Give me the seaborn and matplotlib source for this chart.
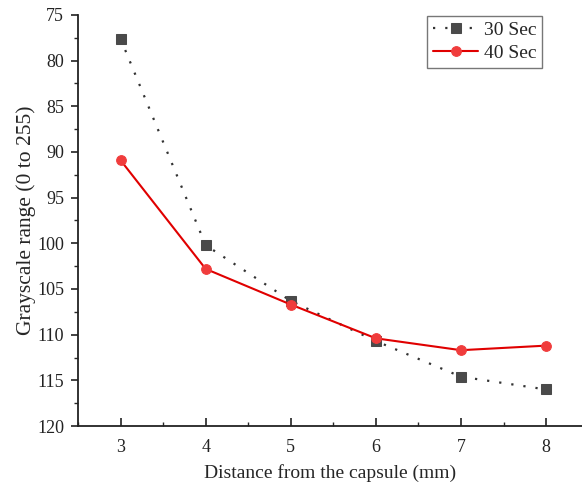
import matplotlib
matplotlib.use("Agg")
import matplotlib.pyplot as plt
import seaborn as sns
import pandas as pd
from matplotlib.ticker import MultipleLocator

distance = [3, 4, 5, 6, 7, 8]
gray_30 = [77.6, 100.2, 106.3, 110.7, 114.6, 116.0]
gray_40 = [90.9, 102.8, 106.7, 110.4, 111.7, 111.2]
y_ticks = [75, 80, 85, 90, 95, 100, 105, 110, 115, 120]
x_ticks = [3, 4, 5, 6, 7, 8]

df = pd.DataFrame({
    "Distance": distance * 2,
    "Gray": gray_30 + gray_40,
    "Series": ["30 Sec"] * len(distance) + ["40 Sec"] * len(distance),
})

sns.set_style("ticks")
plt.rcParams["font.family"] = ["Liberation Serif", "DejaVu Serif"]

fig = plt.figure(figsize=(5.82, 4.9), dpi=100)
# axes box: left spine at x=78 px, bottom at y=426 px, top at y=15 px
ax = fig.add_axes([78 / 582, 1 - 426 / 490, 504 / 582, 411 / 490])

sns.lineplot(data=df[df.Series == "30 Sec"], x="Distance", y="Gray", ax=ax,
             color="#333333", linestyle=(0, (1, 4.5)), linewidth=1.6,
             marker="s", markersize=6.5, markerfacecolor="#4a4a4a",
             markeredgecolor="#4a4a4a", label="30 Sec")
sns.lineplot(data=df[df.Series == "40 Sec"], x="Distance", y="Gray", ax=ax,
             color="#e00000", linewidth=1.5,
             marker="o", markersize=7, markerfacecolor="#f03c3c",
             markeredgecolor="#f03c3c", label="40 Sec")

ax.set_xlim(2.5, 2.5 + 504 / 85.1)
ax.set_ylim(120, 75)
ax.set_xticks(x_ticks)
ax.set_yticks(y_ticks)
ax.xaxis.set_minor_locator(MultipleLocator(0.5))
ax.yaxis.set_minor_locator(MultipleLocator(2.5))
ax.tick_params(axis="x", which="major", direction="in", length=6, width=1.2,
               labelsize=13, pad=9, colors="#222222")
ax.tick_params(axis="x", which="minor", direction="in", length=3, width=1.0)
ax.tick_params(axis="y", which="major", direction="out", length=5, width=1.2,
               labelsize=13, pad=5, colors="#222222")
ax.tick_params(axis="y", which="minor", direction="out", length=3, width=1.0)

ax.set_xlabel("Distance from the capsule (mm)", fontsize=14, labelpad=6)
ax.set_ylabel("Grayscale range (0 to 255)", fontsize=15.5, labelpad=1)
for s in ["left", "bottom"]:
    ax.spines[s].set_linewidth(1.3)
    ax.spines[s].set_color("#222222")
sns.despine(ax=ax)

leg = ax.legend(loc="upper right", bbox_to_anchor=(0.921, 0.998), fontsize=14,
                frameon=True, fancybox=False, edgecolor="#555555", borderaxespad=0,
                handlelength=2.3, borderpad=0.3, labelspacing=0.25, handletextpad=0.3)
leg.get_frame().set_linewidth(1.0)

fig.savefig("out.png", dpi=100)
